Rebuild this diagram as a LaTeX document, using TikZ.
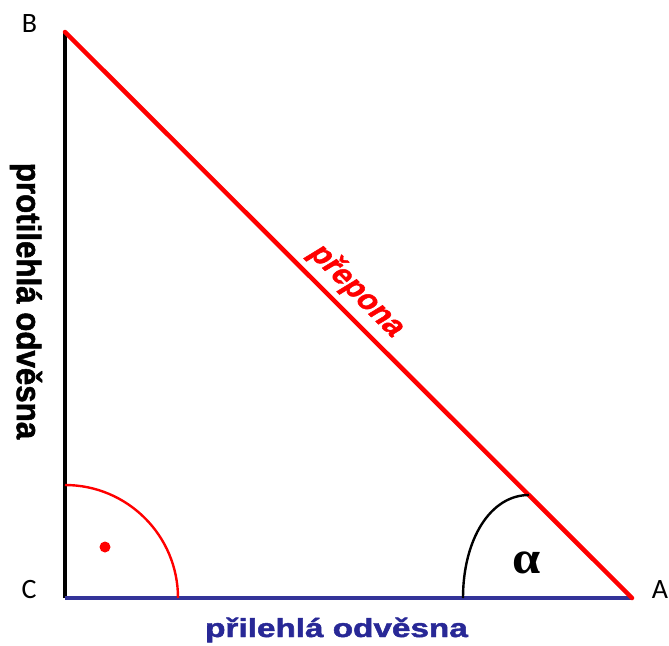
\documentclass[tikz,border=0pt]{standalone}
\usepackage{fontspec}
\setmainfont{Liberation Sans}
\newfontfamily\heavyfont[FakeBold=1.6]{Liberation Sans Bold}
\newfontfamily\labfont{Carlito}
\newfontfamily\greekfont{Liberation Serif}
\definecolor{legblue}{RGB}{51,51,153}
\definecolor{txtblue}{RGB}{40,40,150}
\tikzset{
  vlabel/.style={inner sep=0pt, font=\labfont\fontsize{28}{28}\selectfont},
  sidetext/.style={inner sep=0pt},
  arcline/.style={line width=2.4pt},
}
\begin{document}
\begin{tikzpicture}[x=1pt,y=-1pt]
\useasboundingbox (0,0) rectangle (669,645);
\coordinate (C) at (65,598);
\coordinate (B) at (65,32);
\coordinate (A) at (632,598);
% sides
\draw[black, line width=3.6pt] (C) -- (B);
\draw[legblue, line width=4.5pt] (C) -- (A);
\draw[red, line width=4.5pt, line cap=round] (B) -- (A);
% right angle
\coordinate (R1) at (65,485);
\draw[red, arcline] (R1) arc[start angle=-90, end angle=0, radius=113];
\fill[red] (105,547) circle[radius=5.5];
% alpha arc
\coordinate (a1) at (463,598);
\coordinate (a2) at (529,495);
\draw[black, arcline] (a1) .. controls (463,540) and (490,495) .. (a2);
\node[inner sep=0pt] (alpha) at (527,563) {\scalebox{1.1}[1]{\greekfont\bfseries\fontsize{46}{46}\selectfont α}};
% vertex labels
\node[vlabel] (labB) at (29.5,24) {B};
\node[vlabel] (labC) at (29,590) {C};
\node[vlabel] (labA) at (660,590) {A};
% side texts
\node[sidetext, txtblue] (adj) at (336.5,630) {\scalebox{1.28}[1]{\heavyfont\fontsize{26}{26}\selectfont přilehlá odvěsna}};
\node[sidetext, black, rotate=-90] (opp) at (26,301) {\scalebox{0.92}[1]{\heavyfont\fontsize{34}{34}\selectfont protilehlá odvěsna}};
\begin{scope}[shift={(357,291)}, xscale=1.28]
\node[sidetext, red, rotate=-52, transform shape] (hyp) at (0,0) {\heavyfont\fontsize{27}{27}\selectfont přepona};
\end{scope}
\end{tikzpicture}
\end{document}
